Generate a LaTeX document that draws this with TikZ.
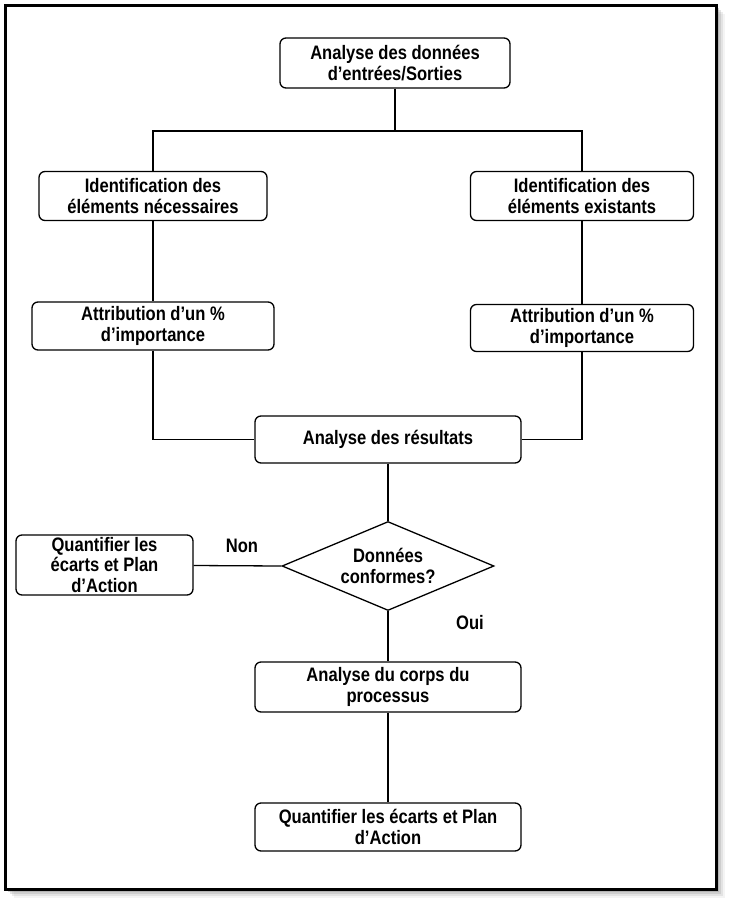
\documentclass[tikz,border=0pt]{standalone}
\usepackage{fontspec}
\setmainfont{Liberation Sans}[FakeStretch=0.85]
\usepackage{tikz}
\usetikzlibrary{shapes.geometric}
\definecolor{shadow_gray}{RGB}{120,120,120}

\begin{document}
\begin{tikzpicture}[x=1pt,y=-1pt,semithick,line width=1.3pt]
    \tikzstyle{step_box}=[draw=black, rounded corners=6pt, align=center, font=\bfseries\fontsize{19.5}{20.5}\selectfont, inner sep=1pt, fill=white]
    \tikzstyle{test_box}=[draw=black, diamond, aspect=2.38, inner sep=0pt, minimum width=212pt, minimum height=89pt, align=center, font=\bfseries\fontsize{19.5}{20.5}\selectfont]
    \tikzstyle{label}=[text=black, font=\bfseries\fontsize{19.5}{20.5}\selectfont]

    \useasboundingbox (0,0) rectangle (730,905);
    % frame with its shadow
    \foreach \d/\o in {9/0.08,7/0.14,5/0.2,3/0.3}
      \fill[shadow_gray, opacity=\o] (5+\d,5+\d) rectangle (716+\d,889+\d);
    \draw[line width=3pt, fill=white] (5,5) rectangle (716,889);

    \node[step_box, minimum width=230pt, minimum height=50pt] (io)    at (395  ,63  ) {Analyse des données\\d’entrées/Sorties};
    \node[step_box, minimum width=228pt, minimum height=49pt] (needL)  at (153  ,196 ) {Identification des\\éléments nécessaires};
    \node[step_box, minimum width=223pt, minimum height=49pt] (haveR)  at (582  ,196 ) {Identification des\\éléments existants};
    \node[step_box, minimum width=242pt, minimum height=48pt] (weightL) at (153  ,326 ) {Attribution d’un \%\\d’importance};
    \node[step_box, minimum width=223pt, minimum height=47pt] (weightR) at (582  ,328 ) {Attribution d’un \%\\d’importance};
    \node[step_box, minimum width=266pt, minimum height=47pt] (result) at (388  ,439.5) {Analyse des résultats};
    \node[test_box] (ok)     at (388  ,566 ) {Données\\conformes?};
    \node[step_box, inner sep=0pt, minimum width=177pt, minimum height=60pt] (gapL)   at (104.5,565 ) {Quantifier les\\écarts et Plan\\d'Action};
    \node[step_box, minimum width=266pt, minimum height=50pt] (body)   at (388  ,687 ) {Analyse du corps du\\processus};
    \node[step_box, minimum width=266pt, minimum height=48pt] (gapB)   at (388  ,827 ) {Quantifier les écarts et Plan\\d’Action};

    \coordinate (split) at (395,131);

    \node[label] (no)  at (242,546) {Non};
    \node[label] (yes) at (470,623) {Oui};

    \draw (io) -- (split);
    \draw (needL.north) |- (split) -| (haveR.north);
    \draw (needL) -- (weightL);
    \draw (haveR) -- (weightR);
    \draw (weightL.south) |- (result.west);
    \draw (weightR.south) |- (result.east);
    \draw (result) -- (ok);
    \draw (gapL) -- (ok.west);
    \draw (ok.south) -- (body);
    \draw (body) -- (gapB);
\end{tikzpicture}
\end{document}
